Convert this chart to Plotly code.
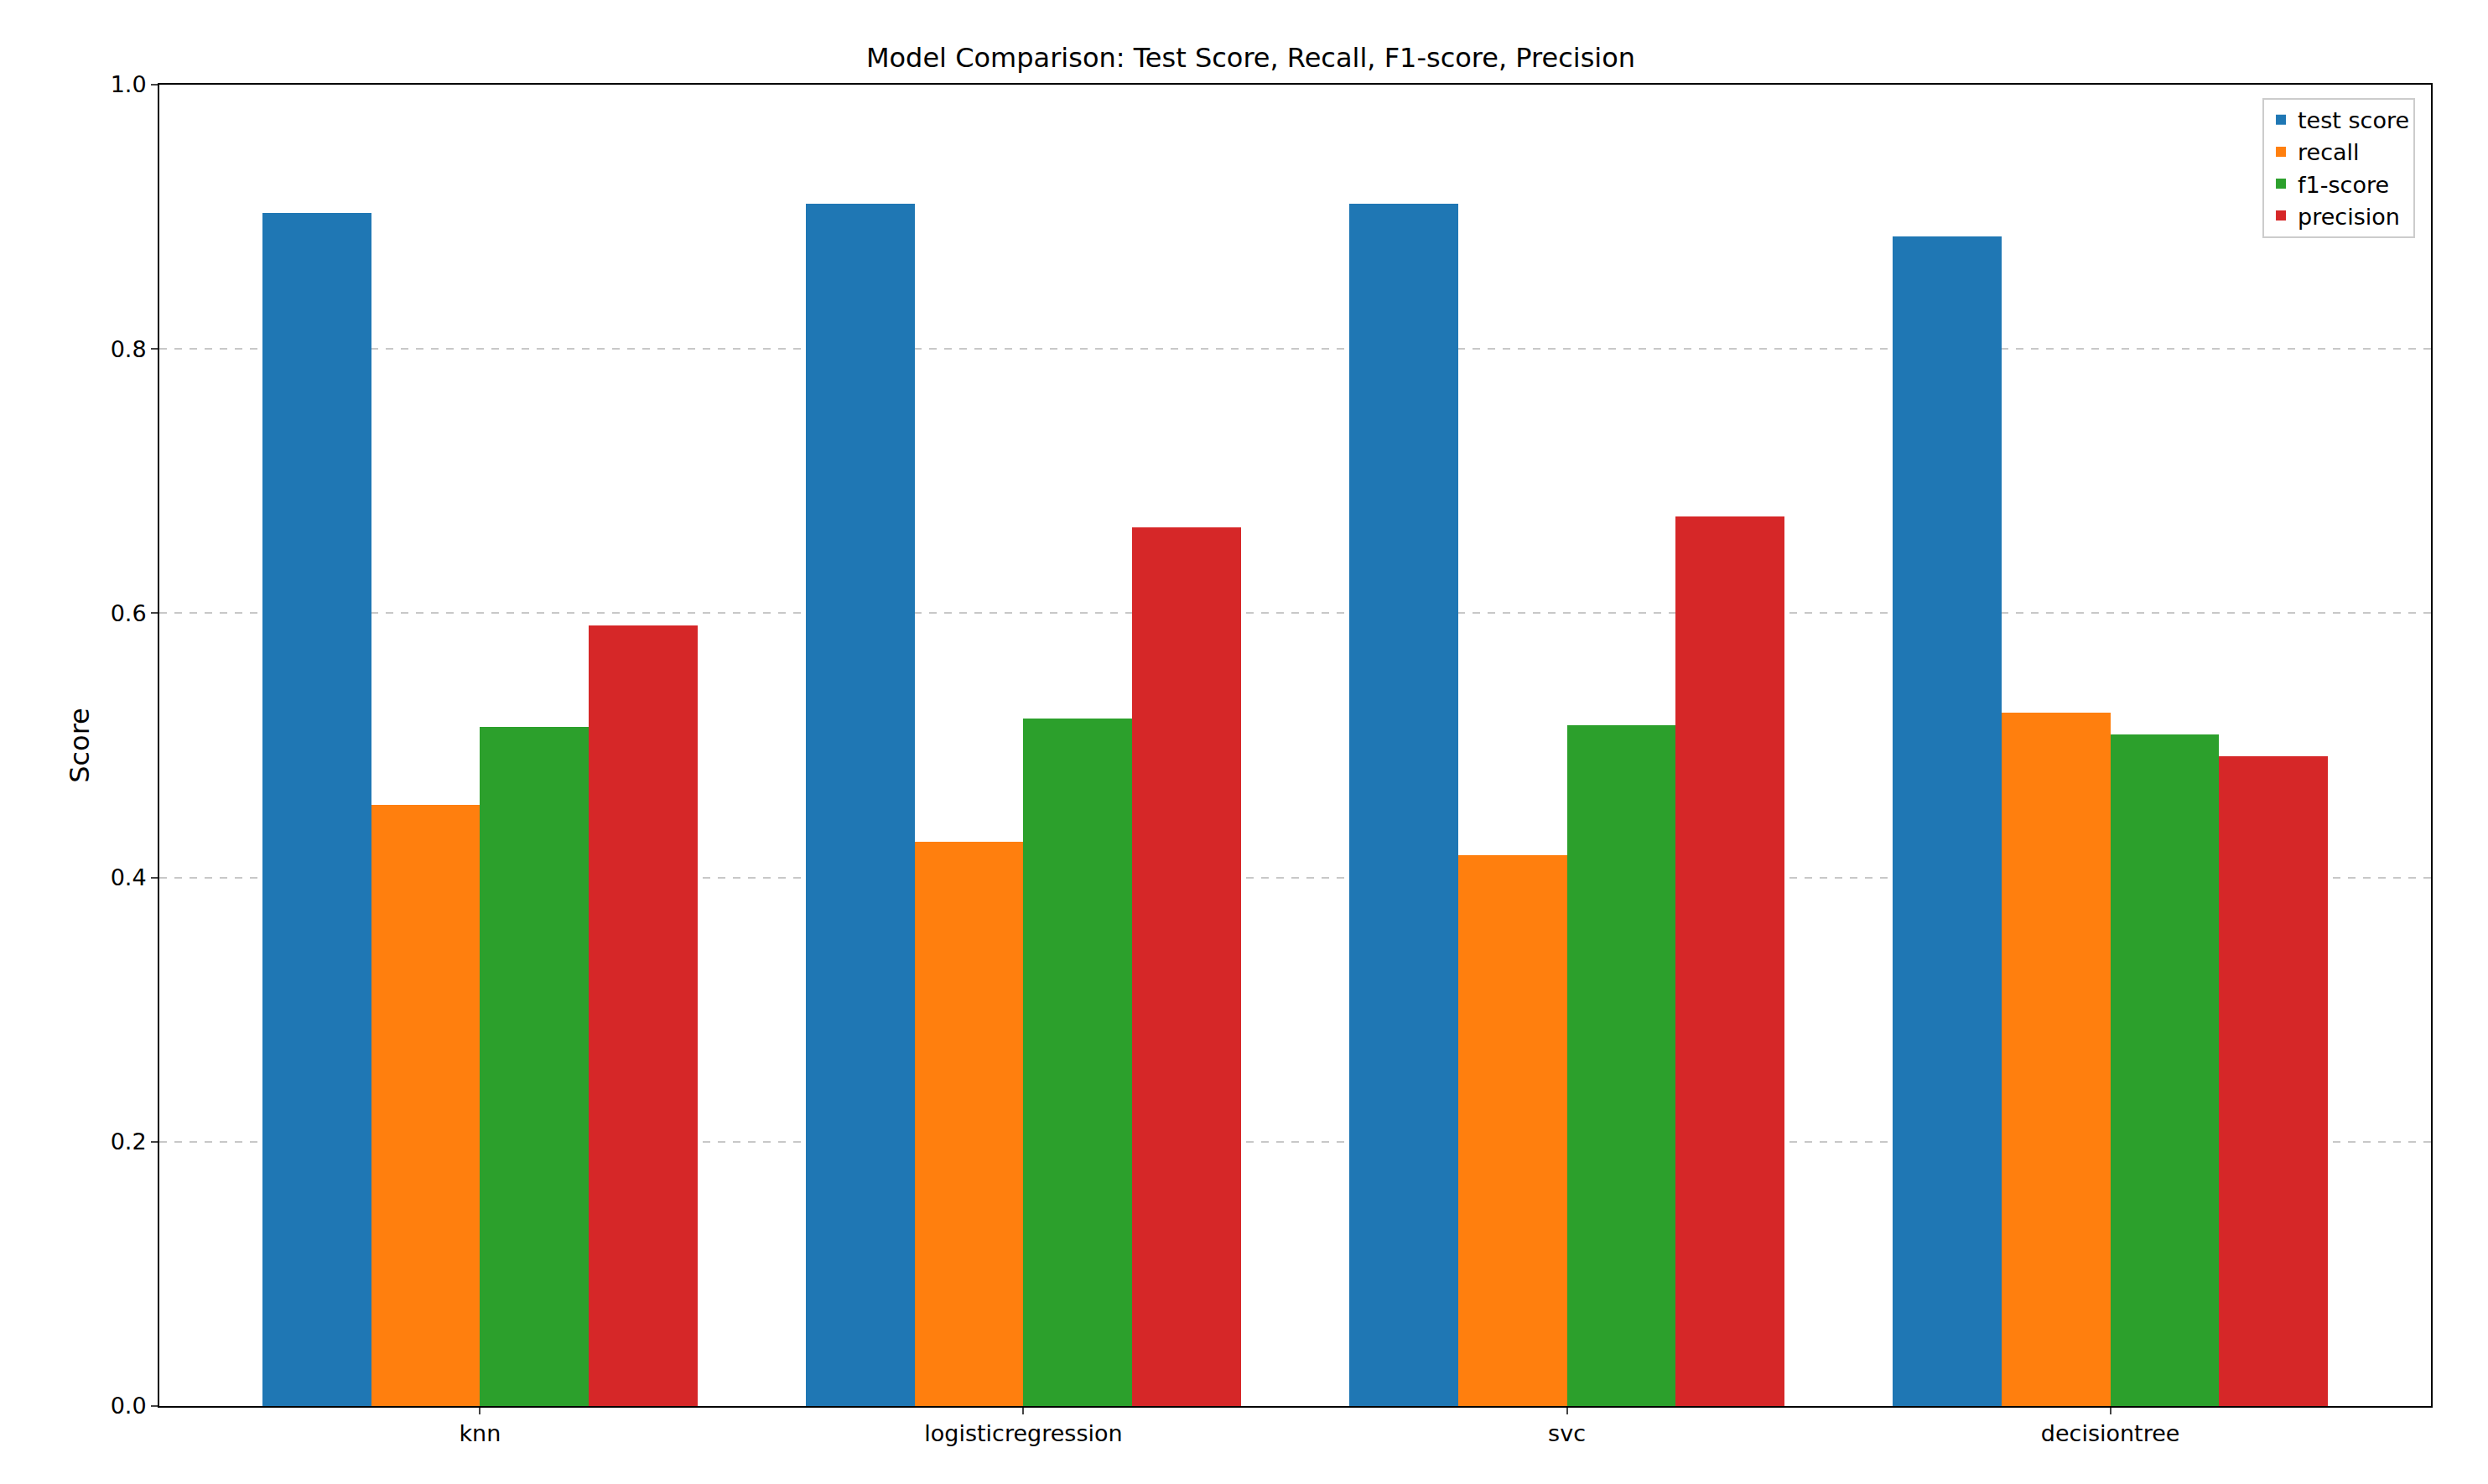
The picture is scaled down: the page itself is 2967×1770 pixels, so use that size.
import plotly.graph_objects as go

models = ["knn", "logisticregression", "svc", "decisiontree"]
metrics = ["test score", "recall", "f1-score", "precision"]
test_score = [0.903, 0.910, 0.910, 0.885]
recall = [0.455, 0.427, 0.417, 0.525]
f1_score = [0.514, 0.520, 0.515, 0.508]
precision = [0.591, 0.665, 0.673, 0.492]
colors = ["#1f77b4", "#ff7f0e", "#2ca02c", "#d62728"]

series = [test_score, recall, f1_score, precision]
width = 0.2
fig = go.Figure()
for i, (name, vals) in enumerate(zip(metrics, series)):
    xs = [k + (i - 1.5) * width for k in range(len(models))]
    fig.add_trace(go.Bar(x=xs, y=vals, name=name, width=width,
                         marker=dict(color=colors[i], line_width=0)))

fig.update_layout(
    width=2967, height=1770,
    paper_bgcolor="white", plot_bgcolor="white",
    font=dict(family="DejaVu Sans", size=27, color="black"),
    title=dict(text="Model Comparison: Test Score, Recall, F1-score, Precision",
               x=0.5, xanchor="center", y=0.972, font=dict(size=32)),
    margin=dict(l=182, r=76, t=93, b=101),
    bargap=0, showlegend=True,
    legend=dict(x=0.993, y=0.99, xanchor="right", yanchor="top",
                bordercolor="#cccccc", borderwidth=2, font=dict(size=27),
                bgcolor="rgba(255,255,255,0.8)"),
)
fig.update_xaxes(range=[-0.59, 3.59], tickvals=list(range(len(models))),
                 ticktext=models, showline=True, linecolor="black", linewidth=2,
                 mirror=True, ticks="outside", ticklen=8, tickwidth=2, showgrid=False)
fig.update_yaxes(range=[0, 1], dtick=0.2, tickformat=".1f", title_text="Score",
                 showline=True, linecolor="black", linewidth=2, mirror=True,
                 ticks="outside", ticklen=8, tickwidth=2, zeroline=False,
                 showgrid=True, gridcolor="#c8c8c8", griddash="dash", gridwidth=2)
fig.write_html("out.html")
